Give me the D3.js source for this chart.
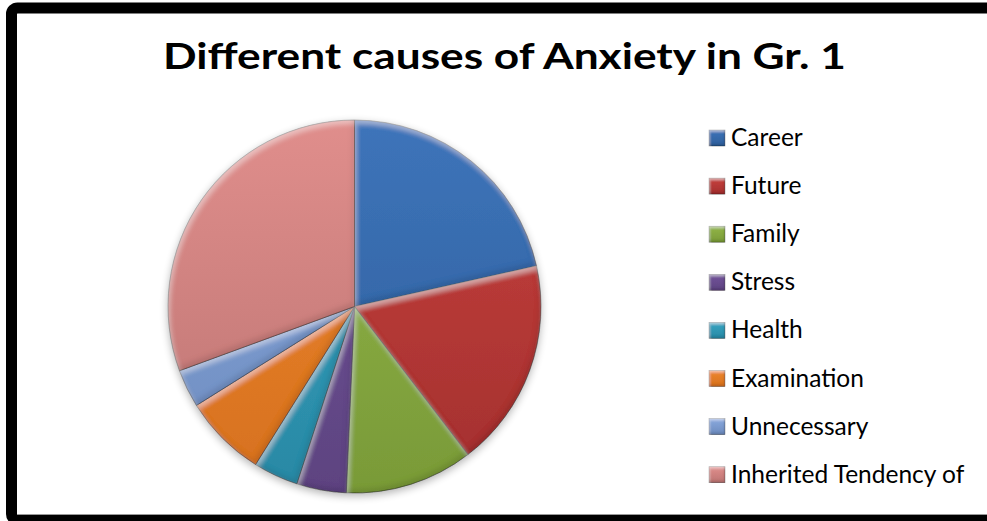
<!DOCTYPE html>
<html><head><meta charset="utf-8">
<script src="https://cdn.jsdelivr.net/npm/d3@7"></script>
<style>html,body{margin:0;padding:0;background:#fff;}svg{display:block;}</style>
</head><body>
<svg id="chart" width="987" height="521"></svg>
<script>
const title = "Different causes of Anxiety in Gr. 1";
const categories = ["Career","Future","Family","Stress","Health","Examination","Unnecessary","Inherited Tendency of"];
const values = [21.5, 18.1, 11.1, 4.3, 3.9, 7.2, 3.3, 30.6];
const topColors = ["#3d74ba","#c8413d","#93b648","#74549c","#35a6c3","#ee882e","#8aaadf","#e08e8c"];
const bottomColors = ["#2f5e9a","#a2302f","#799a38","#5d4380","#2a88a4","#d6701f","#6c8abd","#bc7472"];

const svg = d3.select("#chart");
const W = 987, H = 521;
const defs = svg.append("defs");

// bevel filter: light inner edges on top/left, dark on bottom/right
function makeBevel(id, blurSd, off, lightOp, darkOp){
  const f = defs.append("filter").attr("id",id).attr("x","-10%").attr("y","-10%").attr("width","120%").attr("height","120%");
  f.append("feGaussianBlur").attr("in","SourceAlpha").attr("stdDeviation",blurSd).attr("result","blur");
  f.append("feOffset").attr("in","blur").attr("dx",off*0.6).attr("dy",off).attr("result","offL");
  f.append("feComposite").attr("in","SourceAlpha").attr("in2","offL").attr("operator","out").attr("result","edgeL");
  f.append("feFlood").attr("flood-color","#ffffff").attr("flood-opacity",lightOp).attr("result","white");
  f.append("feComposite").attr("in","white").attr("in2","edgeL").attr("operator","in").attr("result","hl");
  f.append("feOffset").attr("in","blur").attr("dx",-off*0.6).attr("dy",-off).attr("result","offD");
  f.append("feComposite").attr("in","SourceAlpha").attr("in2","offD").attr("operator","out").attr("result","edgeD");
  f.append("feFlood").attr("flood-color","#000000").attr("flood-opacity",darkOp).attr("result","black");
  f.append("feComposite").attr("in","black").attr("in2","edgeD").attr("operator","in").attr("result","dk");
  const m = f.append("feMerge");
  m.append("feMergeNode").attr("in","SourceGraphic");
  m.append("feMergeNode").attr("in","hl");
  m.append("feMergeNode").attr("in","dk");
}
makeBevel("bevel", 2.5, 4, 0.35, 0.22);
makeBevel("bevelSmall", 1, 2, 0.4, 0.3);

// drop shadow
const sh = defs.append("filter").attr("id","shadow").attr("x","-20%").attr("y","-20%").attr("width","140%").attr("height","140%");
sh.append("feGaussianBlur").attr("stdDeviation",4);

const cx = 354.5, cy = 306.5, R = 186.5;

categories.forEach((c,i)=>{
  const g = defs.append("linearGradient").attr("id","g"+i).attr("gradientUnits","userSpaceOnUse")
    .attr("x1",0).attr("y1",-R).attr("x2",0).attr("y2",R);
  g.append("stop").attr("offset","0%").attr("stop-color",topColors[i]);
  g.append("stop").attr("offset","100%").attr("stop-color",bottomColors[i]);
  const lg = defs.append("linearGradient").attr("id","lg"+i).attr("x1",0).attr("y1",0).attr("x2",0).attr("y2",1);
  lg.append("stop").attr("offset","0%").attr("stop-color",topColors[i]);
  lg.append("stop").attr("offset","100%").attr("stop-color",bottomColors[i]);
});

// border frame
svg.append("rect").attr("x",11.5).attr("y",8).attr("width",1000).attr("height",512)
  .attr("rx",6).attr("fill","#fff").attr("stroke","#000").attr("stroke-width",11);
svg.append("line").attr("x1",17).attr("x2",W).attr("y1",514.5).attr("y2",514.5).attr("stroke","#999").attr("stroke-width",1);

// title
svg.append("text").attr("x",504.5).attr("y",69).attr("text-anchor","middle")
  .attr("font-family","Lato, 'Open Sans', sans-serif").attr("font-weight","bold").attr("font-size",37)
  .attr("textLength",683).attr("lengthAdjust","spacingAndGlyphs")
  .attr("fill","#000").text(title);

// pie
const pie = d3.pie().sort(null).value(d=>d)(values);
const arc = d3.arc().innerRadius(0).outerRadius(R);
const pg = svg.append("g").attr("transform",`translate(${cx},${cy})`);
pg.append("circle").attr("cy",3).attr("r",R).attr("fill","#000").attr("opacity",0.3).attr("filter","url(#shadow)");
pg.selectAll("path.slice").data(pie).enter().append("path").attr("class","slice")
  .attr("d",arc)
  .attr("fill",(d,i)=>"url(#g"+i+")")
  .attr("stroke","rgba(0,0,0,0.5)").attr("stroke-width",0.8)
  .attr("filter","url(#bevel)");

// legend
const lgG = svg.append("g");
categories.forEach((c,i)=>{
  const y = 146 + i*48.1;
  lgG.append("rect").attr("x",709).attr("y",y-16).attr("width",16).attr("height",16)
    .attr("fill","url(#lg"+i+")").attr("stroke","rgba(0,0,0,0.45)").attr("stroke-width",0.6)
    .attr("filter","url(#bevelSmall)");
  lgG.append("text").attr("x",731).attr("y",y).attr("font-family","Lato, 'Open Sans', sans-serif")
    .attr("font-size",24.5).attr("fill","#000").text(c);
});
</script>
</body></html>
